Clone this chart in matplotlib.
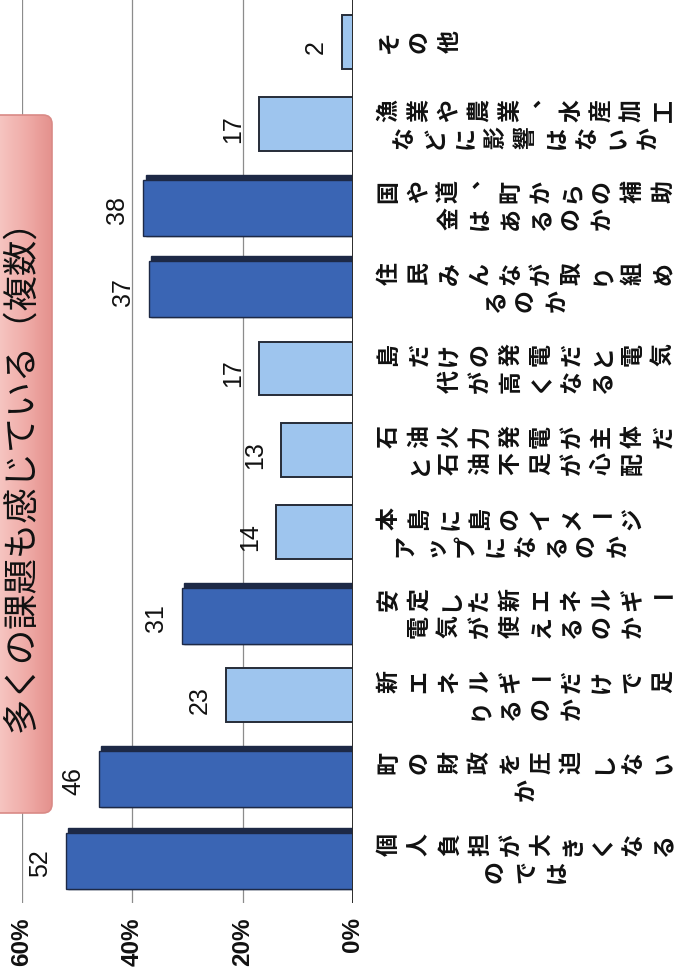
import numpy as np
import matplotlib.pyplot as plt
import matplotlib.transforms as mtransforms
from matplotlib.patches import FancyBboxPatch
from matplotlib.colors import LinearSegmentedColormap

plt.rcParams['font.family'] = ['Noto Sans CJK JP', 'DejaVu Sans']

# answers, top to bottom (the chart is laid on its side)
categories = [
    "その他",
    "漁業や農業、水産加工\nなどに影響はないか",
    "国や道、町からの補助\n金はあるのか",
    "住民みんなが取り組め\nるのか",
    "島だけの発電だと電気\n代が高くなる",
    "石油火力発電が主体だ\nと石油不足が心配",
    "本島に島のイメージ\nアップになるのか",
    "安定した新エネルギー\n電気が使えるのか",
    "新エネルギーだけで足\nりるのか",
    "町の財政を圧迫しない\nか",
    "個人負担が大きくなる\nのでは",
]
values = [2, 17, 38, 37, 17, 13, 14, 31, 23, 46, 52]
ticks = [0, 20, 40, 60]
tick_labels = ["0%", "20%", "40%", "60%"]
title = "多くの課題も感じている（複数）"

W, H = 691, 973
fig = plt.figure(figsize=(W / 100, H / 100), dpi=100)

# overlay in pixel units for the title box and outside labels
ov = fig.add_axes([0, 0, 1, 1], zorder=2)
ov.set_xlim(0, W)
ov.set_ylim(H, 0)
ov.axis('off')
ov.patch.set_alpha(0)

ax = fig.add_axes([22 / W, 1 - 903 / H, (353 - 22) / W, 903 / H], zorder=1)
pos = np.arange(len(categories))
vals = np.array(values, dtype=float)
ax.set_xlim(60, 0)
ax.set_ylim(10.55, -0.515)
for s in ax.spines.values():
    s.set_visible(False)
ax.set_xticks([])
ax.set_yticks([])

for t in ticks[1:]:
    ax.axvline(t, color='#8c8c8c', lw=0.9, zorder=0)
ax.axvline(0, color='#2b2b2b', lw=1.4, zorder=4)

dark = vals >= 30
light = ~dark

# light bars
ax.barh(pos[light], vals[light], height=0.66, color='#9ec5ee',
        edgecolor='#262c38', linewidth=1.4, zorder=2)
# dark bars with a shaded top face
ax.barh(pos[dark], vals[dark] - 0.4, height=0.75, color='#1d2946',
        edgecolor='#1d2946', linewidth=1, zorder=2)
ax.barh(pos[dark] + 0.03, vals[dark], height=0.686, color='#3a65b4',
        edgecolor='#1d2946', linewidth=1, zorder=3)

for p, v in zip(pos, values):
    ax.annotate(str(v), (v, p), xytext=(-14, -5), textcoords='offset pixels',
                rotation=90, ha='right', va='center', fontsize=18,
                family='Liberation Sans', color='#111111')

# percent ticks under the baseline
tick_tr = mtransforms.blended_transform_factory(ax.transData, ov.transData)
for t, lab in zip(ticks, tick_labels):
    ov.text(t, 917, lab, transform=tick_tr, rotation=90, ha='center',
            va='top', fontsize=17.5, fontweight='bold',
            family='Liberation Sans', color='#111111')

# category labels, one glyph at a time in vertical writing
lab_tr = mtransforms.blended_transform_factory(ov.transData, ax.transData)
pitch = 30.5
row_gap = 13.5 / 81.6
for p, cat in zip(pos, categories):
    rows = cat.split("\n")
    n1 = len(rows[0])
    mid = 389 + pitch * (n1 - 1) / 2
    offs = [0.0] if len(rows) == 1 else [-row_gap, row_gap]
    for r, (row, dy) in enumerate(zip(rows, offs)):
        x0 = 389 if r == 0 else mid - pitch * (len(row) - 1) / 2
        for k, ch in enumerate(row):
            x = x0 + pitch * k
            y = p + dy
            rot = 90
            if ch == 'ー':
                rot = 0
            if ch == '、':
                x -= 8
                y -= 14 / 81.6
            ov.text(x, y, ch, transform=lab_tr, rotation=rot, ha='center',
                    va='center', fontsize=16.5, fontweight='bold',
                    color='#111111')

# title box
box = FancyBboxPatch((-20, 115), 72, 698,
                     boxstyle='round,pad=0,rounding_size=9',
                     facecolor='none', edgecolor='#d98a86', linewidth=1.2,
                     zorder=3)
ov.add_patch(box)
grad = np.linspace(0, 1, 200).reshape(1, -1)
cmap = LinearSegmentedColormap.from_list(
    'pink', ['#f9d6d3', '#f5c1bd', '#efaaa6', '#e4918d'])
img = ov.imshow(grad, cmap=cmap, extent=(-20, 52, 813, 115),
                aspect='auto', zorder=2)
img.set_clip_path(box)
ov.set_xlim(0, W)
ov.set_ylim(H, 0)
ov.text(21, 467, title, rotation=90, ha='center', va='center',
        fontsize=25.5, color='#111111', zorder=4)

fig.savefig('out.png', dpi=100)
